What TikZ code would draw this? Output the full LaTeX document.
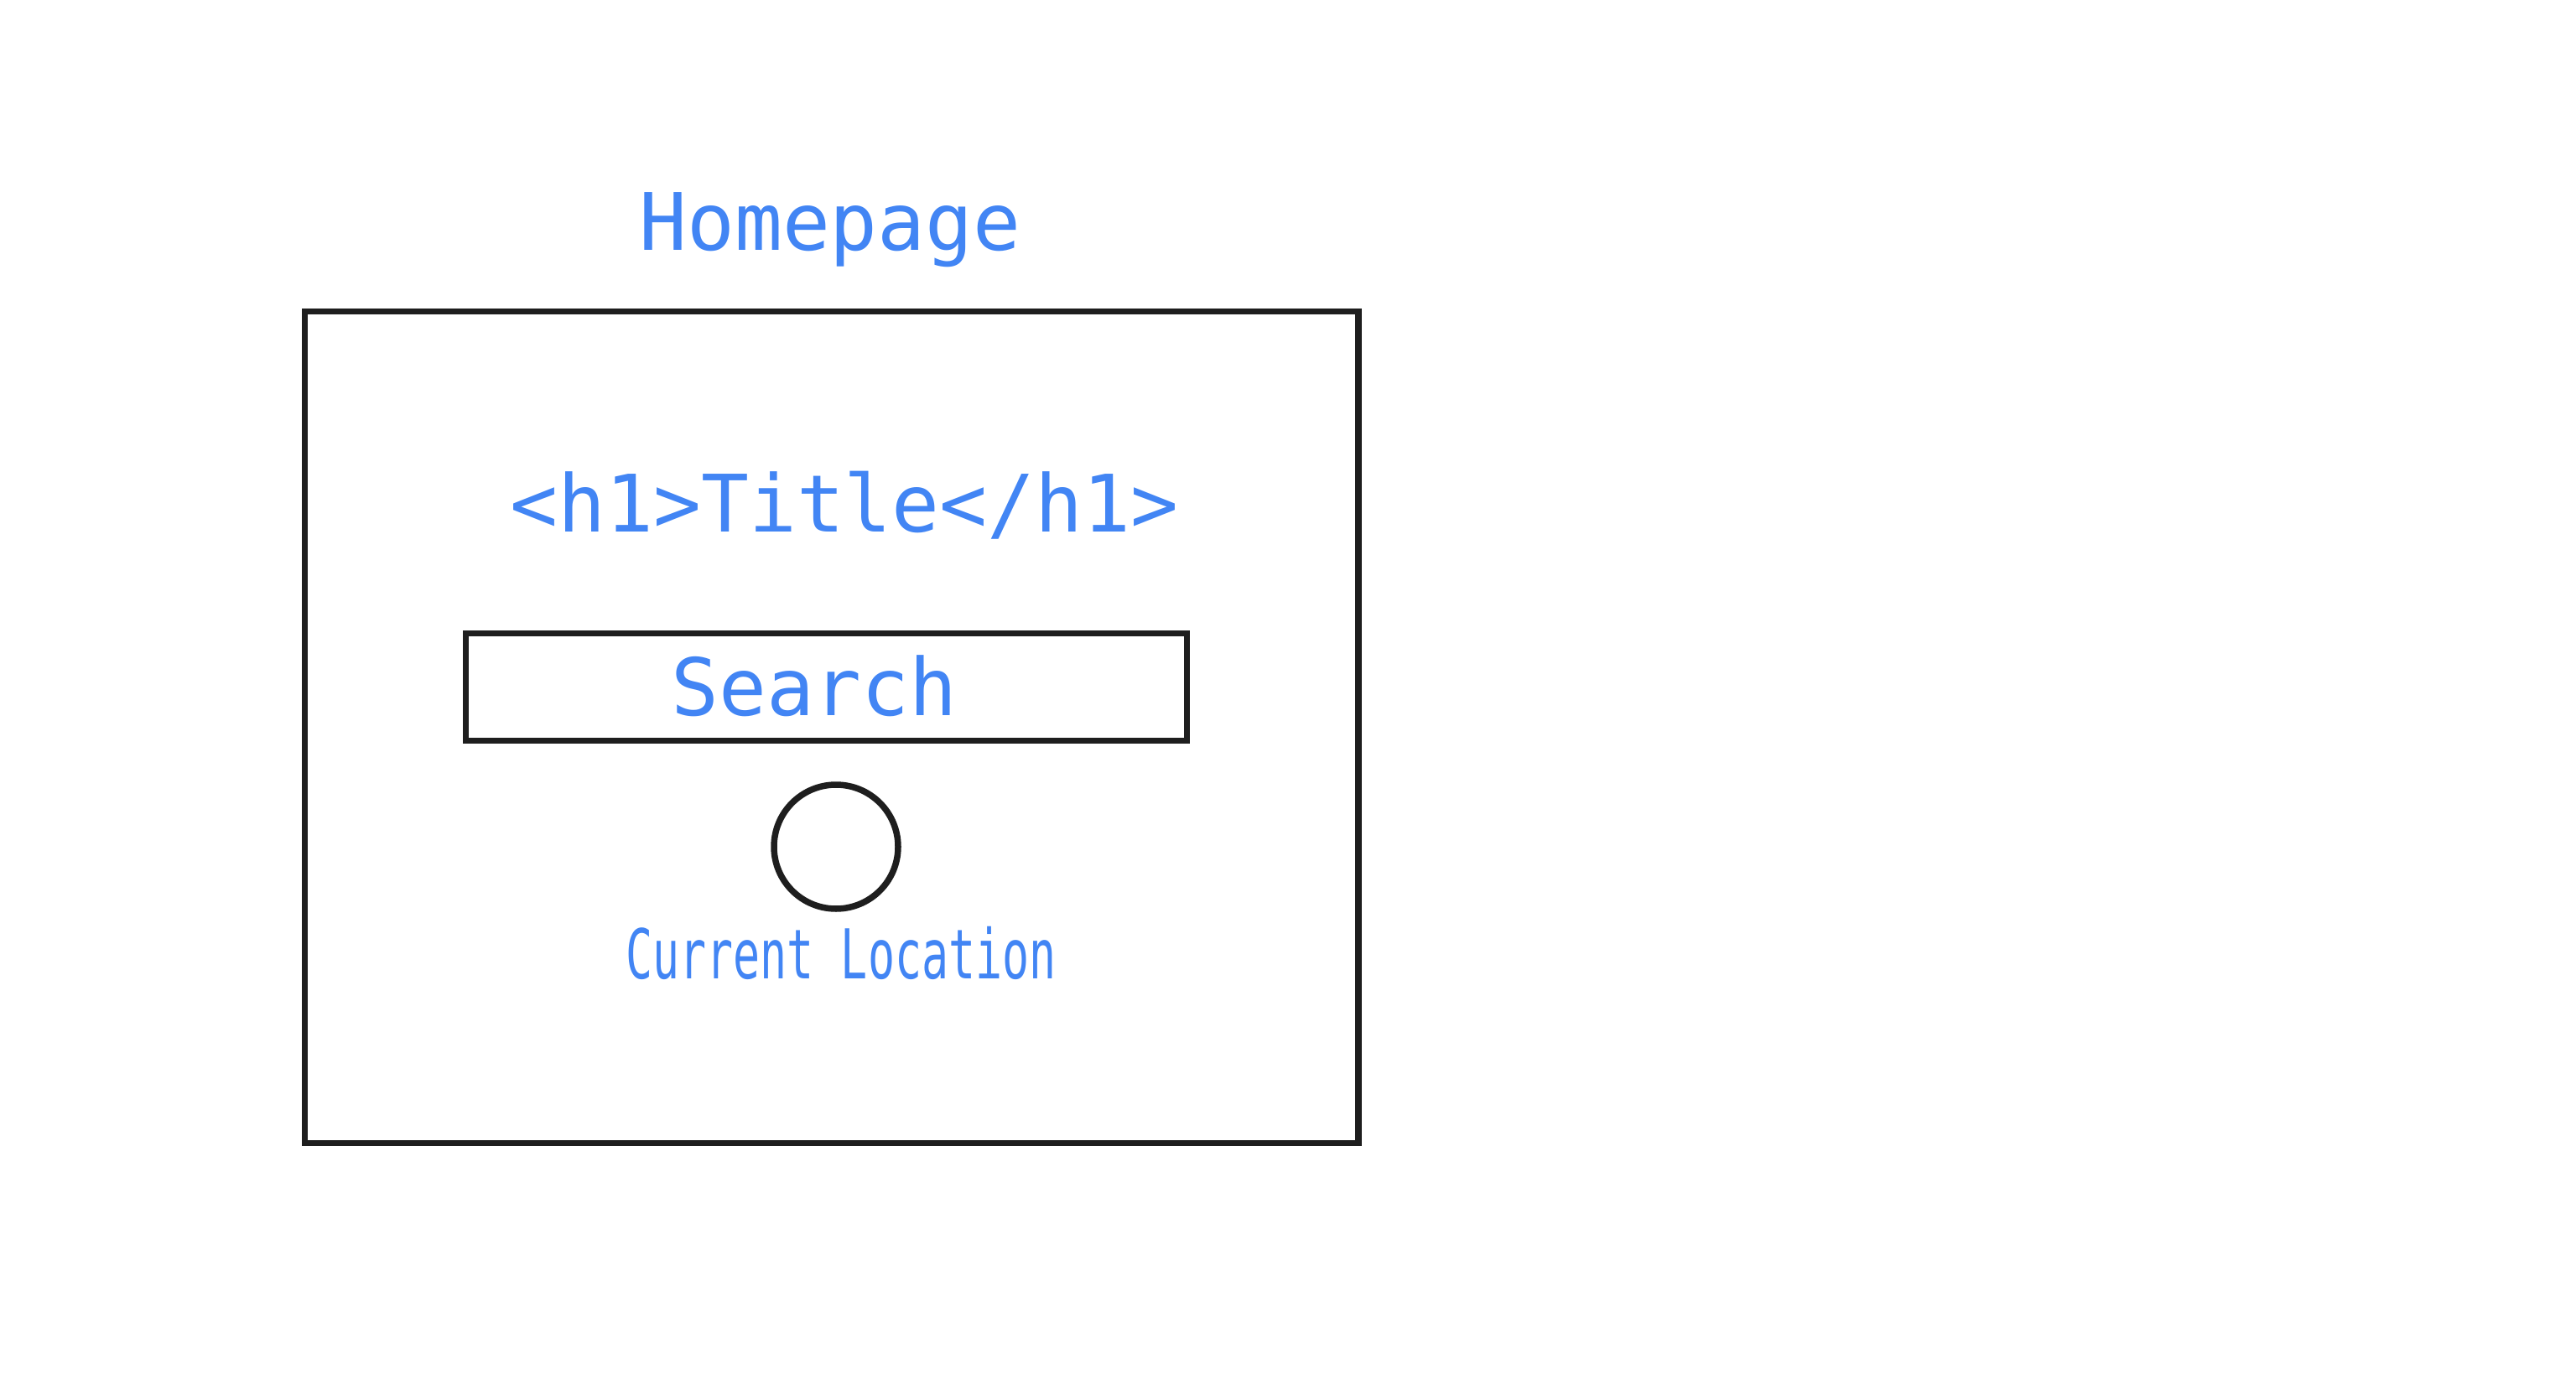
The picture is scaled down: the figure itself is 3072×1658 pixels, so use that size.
\documentclass[tikz,border=0pt]{standalone}
\usepackage{fontspec}
\newfontfamily\wiremono{DejaVu Sans Mono}
\newfontfamily\wirenarrow[FakeStretch=0.65]{DejaVu Sans Mono}
\definecolor{wireblue}{HTML}{4285F4}
\definecolor{wireink}{HTML}{1E1E1E}
\tikzset{
  frame/.style={draw=wireink,line width=0.075cm},
  label/.style={text=wireblue,anchor=base,inner sep=0pt,font=\wiremono\fontsize{26.9pt}{32pt}\selectfont},
  caption/.style={text=wireblue,anchor=base,inner sep=0pt,font=\wirenarrow\fontsize{23.3pt}{28pt}\selectfont}
}
\begin{document}
\begin{tikzpicture}[x=0.01cm,y=-0.01cm]
\useasboundingbox (0,0) rectangle (3072,1658);

% Page outline and its name above it.
\draw[frame] (363.5,371.5) rectangle (1620,1363.5);
\node[label] (homepage) at (990,299) {Homepage};

% Heading placeholder.
\node[label] (title) at (1007,634) {<h1>Title</h1>};

% Search field.
\draw[frame] (555.5,755.5) rectangle (1415.5,883.5);
\node[label] (search) at (971,853) {Search};

% Location button with its caption.
\draw[frame] (997,1010) circle (74);
\node[caption] (location) at (1003,1167) {Current Location};
\end{tikzpicture}
\end{document}
